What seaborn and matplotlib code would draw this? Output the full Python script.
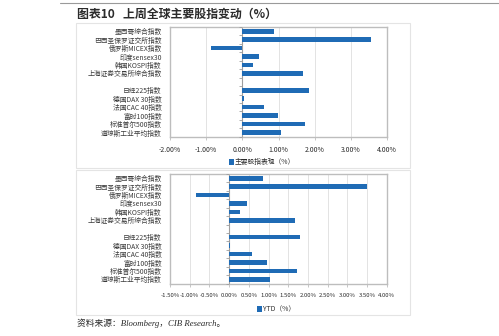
import matplotlib
matplotlib.use("Agg")
import matplotlib.pyplot as plt
from matplotlib.lines import Line2D
from matplotlib.patches import Patch, Rectangle
import numpy as np
import pandas as pd
import seaborn as sns

sns.set_theme(style="white")
plt.rcParams["font.family"] = ["Noto Sans CJK SC", "DejaVu Sans"]

# Index names, top to bottom; the blank entry separates emerging and developed markets
emerging = ["墨西哥综合指数", "巴西圣保罗证交所指数", "俄罗斯MICEX指数",
            "印度sensex30", "韩国KOSPI指数", "上海证券交易所综合指数"]
developed = ["日经225指数", "德国DAX 30指数", "法国CAC 40指数",
             "富时100指数", "标准普尔500指数", "道琼斯工业平均指数"]
order = emerging + [" "] + developed

# Weekly change (%)
weekly_emerging = [0.86, 3.54, -0.86, 0.46, 0.28, 1.68]
weekly_developed = [1.83, 0.03, 0.59, 0.97, 1.74, 1.06]
# YTD (%)
ytd_emerging = [0.85, 3.51, -0.85, 0.46, 0.28, 1.66]
ytd_developed = [1.81, 0.02, 0.58, 0.96, 1.73, 1.05]

weekly_ticks = [-2.0, -1.0, 0.0, 1.0, 2.0, 3.0, 4.0]
ytd_ticks = [-1.5, -1.0, -0.5, 0.0, 0.5, 1.0, 1.5, 2.0, 2.5, 3.0, 3.5, 4.0]

title = "图表10   上周全球主要股指变动（%）"
weekly_label = "主要股指表现（%）"
ytd_label = "YTD（%）"
source = "资料来源：Bloomberg，CIB Research。"

BAR = "#1f6bb5"
GRID = "#dedede"
FRAME = "#bdbdbd"
TXT = "#2b2b2b"
W, H = 499, 336

fig = plt.figure(figsize=(W / 100, H / 100), dpi=100)
fig.patch.set_facecolor("white")


def fx(px):
    return px / W


def fy(py):
    return 1 - py / H


# Rule across the top and the two panel frames
fig.add_artist(Line2D([fx(60), fx(499)], [fy(3), fy(3)], color="#9a9a9a", lw=0.8))
for top, bottom in [(23, 168), (170, 315)]:
    fig.add_artist(Rectangle((fx(76), fy(bottom)), fx(410) - fx(76), fy(top) - fy(bottom),
                             fill=False, edgecolor="#e4e4e4", lw=0.8))

fig.text(fx(77), fy(14), title, fontsize=8.6, fontweight="bold", color=TXT,
         ha="left", va="center")


def draw_panel(rect, names, values, ticks, legend_text, legend_xy, tick_size):
    ax = fig.add_axes(rect)
    df = pd.DataFrame({"name": names, "value": values})
    sns.barplot(data=df, x="value", y="name", order=order, color=BAR,
                width=0.55, saturation=1, ax=ax, zorder=3)
    for p in ax.patches:
        p.set_edgecolor("none")
    ax.set_xlim(ticks[0], ticks[-1])
    ax.set_ylim(len(order) - 0.5, -0.5)
    ax.set_xticks(ticks)
    ax.set_xticklabels([f"{t:.2f}%" for t in ticks])
    ax.set_xlabel("")
    ax.set_ylabel("")
    ax.grid(axis="x", color=GRID, lw=0.6, zorder=0)
    ax.grid(axis="y", visible=False)
    for s in ax.spines.values():
        s.set_color(FRAME)
        s.set_linewidth(1.0)
    ax.tick_params(axis="x", labelsize=tick_size, colors=TXT, length=2, width=0.6,
                   color=FRAME, pad=5, direction="out", bottom=True)
    ax.tick_params(axis="y", labelsize=4.9, colors=TXT, length=0, pad=6)
    for lab in ax.get_yticklabels():
        lab.set_color("#3a3a3a")

    # Category axis sits on the zero line, with ticks between categories
    ax.axvline(0, color="#9e9e9e", lw=0.8, zorder=2)
    ax2 = ax.twinx()
    ax2.set_ylim(ax.get_ylim())
    ax2.spines["right"].set_position(("data", 0))
    for k in ["top", "bottom", "left", "right"]:
        ax2.spines[k].set_visible(False)
    ax2.set_yticks(np.arange(-0.5, len(order) - 0.4, 1.0))
    ax2.set_yticklabels([])
    ax2.tick_params(axis="y", direction="in", length=2, width=0.6, color="#9e9e9e")
    ax2.grid(False)

    handle = Patch(facecolor=BAR, edgecolor="none")
    fig.legend(handles=[handle], labels=[legend_text], loc="center",
               bbox_to_anchor=legend_xy, frameon=False, fontsize=4.9,
               handlelength=0.7, handleheight=1.0, handletextpad=0.2,
               labelcolor=TXT, borderpad=0)
    return ax


draw_panel([fx(170), fy(136.7), fx(387.3) - fx(170), fy(27) - fy(136.7)],
           emerging + developed, weekly_emerging + weekly_developed,
           weekly_ticks, weekly_label, (fx(262), fy(162)), 5.0)
draw_panel([fx(170), fy(283.5), fx(386.7) - fx(170), fy(174) - fy(283.5)],
           emerging + developed, ytd_emerging + ytd_developed,
           ytd_ticks, ytd_label, (fx(276), fy(309)), 4.3)

fig.text(fx(77), fy(323), source, fontsize=6.3, style="italic", color=TXT,
         ha="left", va="center", family=["Liberation Serif", "Noto Sans CJK SC"])

fig.savefig("out.png", dpi=100, facecolor="white")
